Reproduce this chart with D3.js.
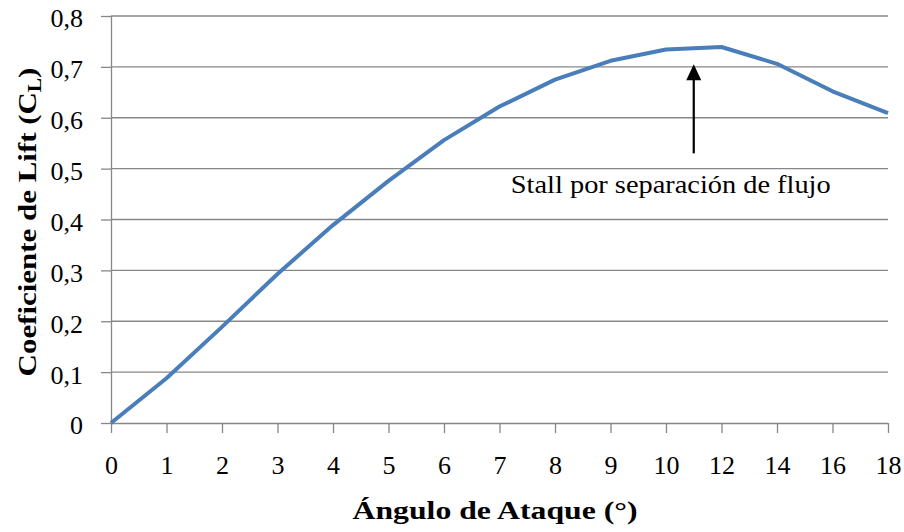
<!DOCTYPE html>
<html>
<head>
<meta charset="utf-8">
<script src="https://cdn.jsdelivr.net/npm/d3@7"></script>
<style>
  body { margin: 0; background: #fff; }
  svg text { font-family: "Liberation Serif", "DejaVu Serif", serif; fill: #000; }
</style>
</head>
<body>
<svg id="chart" width="904" height="532"></svg>
<script>
// Lift coefficient vs. angle of attack
const angles = ["0", "1", "2", "3", "4", "5", "6", "7", "8", "9", "10", "12", "14", "16", "18"];
const cl = [0, 0.088, 0.189, 0.293, 0.389, 0.476, 0.556, 0.622, 0.675, 0.712, 0.734, 0.739, 0.706, 0.652, 0.609];
const yTicks = [0, 0.1, 0.2, 0.3, 0.4, 0.5, 0.6, 0.7, 0.8];
const stallLabel = "Stall por separación de flujo";
const stallArrow = { at: "10", offset: 0.5, tip: 0.705, tail: 0.53 };

const svg = d3.select("#chart");
const plotLeft = 111, plotRight = 888, plotTop = 16, plotBottom = 423;
const fontSize = 26;

const x = d3.scalePoint().domain(angles).range([plotLeft, plotRight]);
const y = d3.scaleLinear().domain([0, 0.8]).range([plotBottom, plotTop]);
const fmt = v => v === 0 ? "0" : d3.format(".1f")(v).replace(".", ",");

const gridColor = "#878787";

// stretch a text group horizontally (about its own origin) to a given width
function fitWidth(node, width) {
  const w = node.getBBox().width;
  return w > 0 ? width / w : 1;
}

// horizontal gridlines
svg.append("g").selectAll("line").data(yTicks.filter(d => d > 0)).join("line")
  .attr("x1", plotLeft).attr("x2", plotRight)
  .attr("y1", d => y(d)).attr("y2", d => y(d))
  .attr("stroke", gridColor).attr("stroke-width", 1.3);

// y axis
const yAxis = svg.append("g").attr("transform", `translate(${plotLeft},0)`)
  .call(d3.axisLeft(y).tickValues(yTicks).tickFormat(fmt).tickSize(10).tickPadding(18));
yAxis.select(".domain").attr("stroke", gridColor).attr("stroke-width", 1.3)
  .attr("d", `M0.5,${plotBottom}V${plotTop}`);
yAxis.selectAll(".tick line").attr("stroke", gridColor).attr("stroke-width", 1.3);
yAxis.selectAll("text").attr("font-size", fontSize).attr("dy", "0.42em");

// x axis
const xAxis = svg.append("g").attr("transform", `translate(0,${plotBottom})`)
  .call(d3.axisBottom(x).tickSize(10).tickPadding(23));
xAxis.select(".domain").attr("stroke", gridColor).attr("stroke-width", 1.3)
  .attr("d", `M${plotLeft},0.5H${plotRight}`);
xAxis.selectAll(".tick line").attr("stroke", gridColor).attr("stroke-width", 1.3);
xAxis.selectAll("text").attr("font-size", fontSize);

// data line
const line = d3.line().x((d, i) => x(angles[i])).y(d => y(d));
svg.append("path").datum(cl)
  .attr("d", line)
  .attr("fill", "none")
  .attr("stroke", "#4a7ebb")
  .attr("stroke-width", 4)
  .attr("stroke-linejoin", "round");

// stall annotation arrow
const ax = x(stallArrow.at) + stallArrow.offset * x.step();
const tipY = y(stallArrow.tip);
svg.append("line")
  .attr("x1", ax).attr("x2", ax)
  .attr("y1", y(stallArrow.tail)).attr("y2", tipY + 14)
  .attr("stroke", "#000").attr("stroke-width", 2.2);
svg.append("path")
  .attr("d", `M${ax},${tipY} L${ax - 7.5},${tipY + 16} L${ax + 7.5},${tipY + 16} Z`)
  .attr("fill", "#000");

const noteG = svg.append("g");
noteG.append("text")
  .attr("text-anchor", "middle")
  .attr("font-size", fontSize)
  .text(stallLabel);
noteG.attr("transform", `translate(${ax - 23},193) scale(${fitWidth(noteG.node(), 320)},1)`);

// axis titles
const xtG = svg.append("g");
xtG.append("text")
  .attr("text-anchor", "middle")
  .attr("font-size", fontSize).attr("font-weight", "bold")
  .text("Ángulo de Ataque (°)");
xtG.attr("transform", `translate(495,519) scale(${fitWidth(xtG.node(), 285)},1)`);

const ytG = svg.append("g");
const yt = ytG.append("text")
  .attr("text-anchor", "middle")
  .attr("font-size", fontSize).attr("font-weight", "bold");
yt.append("tspan").text("Coeficiente de Lift (C");
yt.append("tspan").attr("font-size", 18).attr("dy", 5).text("L");
yt.append("tspan").attr("dy", -5).text(")");
ytG.attr("transform", `translate(36,222) rotate(-90) scale(${fitWidth(ytG.node(), 309)},1)`);
</script>
</body>
</html>
